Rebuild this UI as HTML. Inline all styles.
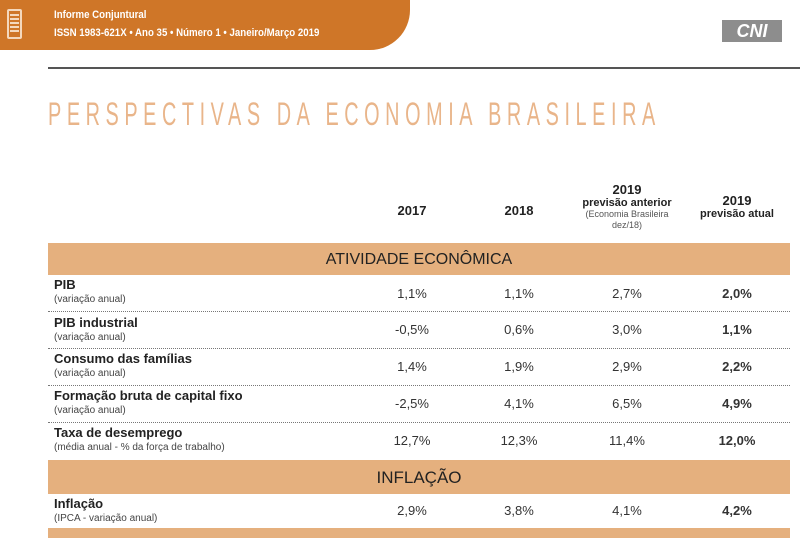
<!DOCTYPE html>
<html><head><meta charset="utf-8"><style>
*{margin:0;padding:0;box-sizing:border-box}
body{width:800px;height:533px;background:#fff;position:relative;overflow:hidden;font-family:"Liberation Sans",sans-serif;color:#222}
.a{position:absolute}
.band{position:absolute;left:48px;width:742px;background:#e5b07e}
.lbl{position:absolute;left:54px;font-size:13px;font-weight:bold;color:#222}
.sub{position:absolute;left:54px;font-size:10px;color:#444}
.v{position:absolute;width:80px;text-align:center;font-size:13px;color:#333}
.sep{position:absolute;left:48px;width:742px;border-top:1.5px dotted #777}
.h{position:absolute;width:110px;text-align:center;font-weight:bold;font-size:13px}
</style></head><body>
<div class="a" style="left:0;top:0;width:410px;height:50px;background:#cf7628;border-bottom-right-radius:40px"></div>
<div class="a" style="left:7px;top:9px;width:15px;height:30px;border:2px solid #f4d8bd;border-radius:2px"></div>
<div class="a" style="left:10px;top:14px;width:9px;height:20px;background:repeating-linear-gradient(#f4d8bd 0 2px,transparent 2px 4px)"></div>
<div class="a" style="left:54px;top:9px;font-size:11px;font-weight:bold;color:#fff;white-space:nowrap;transform:scaleX(0.88);transform-origin:left">Informe Conjuntural</div>
<div class="a" style="left:54px;top:27px;font-size:11px;font-weight:bold;color:#fff;white-space:nowrap;transform:scaleX(0.88);transform-origin:left">ISSN 1983-621X • Ano 35 • Número 1 • Janeiro/Março 2019</div>
<div class="a" style="left:722px;top:20px;width:60px;height:22px;background:#8d8d8d;color:#fff;font:italic bold 18px 'Liberation Sans',sans-serif;text-align:center;line-height:22px">CNI</div>
<div class="a" style="left:48px;top:67px;width:735px;height:2px;background:#555"></div>
<div class="a" style="left:780px;top:67px;width:40px;height:30px;border-top:2px solid #555;border-right:2px solid #555;border-top-right-radius:20px"></div>
<div class="a" style="left:48px;top:96px;font-size:32px;letter-spacing:9px;color:#e9b58a;white-space:nowrap;transform:scaleX(0.62);transform-origin:left">PERSPECTIVAS DA ECONOMIA BRASILEIRA</div>

<div class="h" style="left:357px;top:203px">2017</div>
<div class="h" style="left:464px;top:203px">2018</div>
<div class="h" style="left:572px;top:182px">2019<div style="font-size:11px">previsão anterior</div><div style="font-size:9px;font-weight:normal;color:#555;line-height:11px">(Economia Brasileira<br>dez/18)</div></div>
<div class="h" style="left:682px;top:193px">2019<div style="font-size:11px">previsão atual</div></div>

<div class="band" style="top:243px;height:32px"></div>
<div class="a" style="left:48px;width:742px;top:251px;text-align:center;font-size:16px;color:#222">ATIVIDADE ECONÔMICA</div>

<div class="lbl" style="top:277px">PIB</div><div class="sub" style="top:294px">(variação anual)</div>
<div class="v" style="left:372px;top:286px">1,1%</div><div class="v" style="left:479px;top:286px">1,1%</div><div class="v" style="left:587px;top:286px">2,7%</div><div class="v" style="left:697px;top:286px;font-weight:bold">2,0%</div>
<div class="sep" style="top:311px"></div>
<div class="lbl" style="top:315px">PIB industrial</div><div class="sub" style="top:332px">(variação anual)</div>
<div class="v" style="left:372px;top:322px">-0,5%</div><div class="v" style="left:479px;top:322px">0,6%</div><div class="v" style="left:587px;top:322px">3,0%</div><div class="v" style="left:697px;top:322px;font-weight:bold">1,1%</div>
<div class="sep" style="top:348px"></div>
<div class="lbl" style="top:351px">Consumo das famílias</div><div class="sub" style="top:368px">(variação anual)</div>
<div class="v" style="left:372px;top:359px">1,4%</div><div class="v" style="left:479px;top:359px">1,9%</div><div class="v" style="left:587px;top:359px">2,9%</div><div class="v" style="left:697px;top:359px;font-weight:bold">2,2%</div>
<div class="sep" style="top:385px"></div>
<div class="lbl" style="top:388px">Formação bruta de capital fixo</div><div class="sub" style="top:405px">(variação anual)</div>
<div class="v" style="left:372px;top:396px">-2,5%</div><div class="v" style="left:479px;top:396px">4,1%</div><div class="v" style="left:587px;top:396px">6,5%</div><div class="v" style="left:697px;top:396px;font-weight:bold">4,9%</div>
<div class="sep" style="top:422px"></div>
<div class="lbl" style="top:425px">Taxa de desemprego</div><div class="sub" style="top:442px">(média anual - % da força de trabalho)</div>
<div class="v" style="left:372px;top:433px">12,7%</div><div class="v" style="left:479px;top:433px">12,3%</div><div class="v" style="left:587px;top:433px">11,4%</div><div class="v" style="left:697px;top:433px;font-weight:bold">12,0%</div>

<div class="band" style="top:460px;height:34px"></div>
<div class="a" style="left:48px;width:742px;top:468px;text-align:center;font-size:17px;color:#222">INFLAÇÃO</div>
<div class="lbl" style="top:496px">Inflação</div><div class="sub" style="top:513px">(IPCA - variação anual)</div>
<div class="v" style="left:372px;top:503px">2,9%</div><div class="v" style="left:479px;top:503px">3,8%</div><div class="v" style="left:587px;top:503px">4,1%</div><div class="v" style="left:697px;top:503px;font-weight:bold">4,2%</div>
<div class="band" style="top:528px;height:10px"></div>
</body></html>
